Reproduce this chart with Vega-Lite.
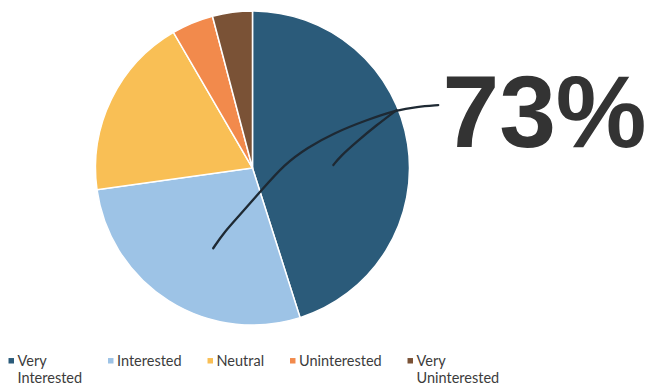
{
  "$schema": "https://vega.github.io/schema/vega-lite/v6.json",
  "width": 651,
  "height": 385,
  "padding": 0,
  "autosize": {"type": "none"},
  "background": "white",
  "config": {"view": {"stroke": null}},
  "datasets": {
    "slices": [
      {"category": "Very Interested", "percent": 45.1, "rank": 1},
      {"category": "Interested", "percent": 27.7, "rank": 2},
      {"category": "Neutral", "percent": 18.8, "rank": 3},
      {"category": "Uninterested", "percent": 4.3, "rank": 4},
      {"category": "Very Uninterested", "percent": 4.1, "rank": 5}
    ],
    "pointer": [
      {"branch": "long", "step": 1, "u": 1.183, "v": 0.401},
      {"branch": "long", "step": 2, "u": 1.046, "v": 0.390},
      {"branch": "long", "step": 3, "u": 0.918, "v": 0.369},
      {"branch": "long", "step": 4, "u": 0.727, "v": 0.306},
      {"branch": "long", "step": 5, "u": 0.515, "v": 0.221},
      {"branch": "long", "step": 6, "u": 0.350, "v": 0.130},
      {"branch": "long", "step": 7, "u": 0.205, "v": 0.025},
      {"branch": "long", "step": 8, "u": 0.059, "v": -0.140},
      {"branch": "long", "step": 9, "u": -0.080, "v": -0.299},
      {"branch": "long", "step": 10, "u": -0.186, "v": -0.416},
      {"branch": "long", "step": 11, "u": -0.250, "v": -0.511},
      {"branch": "short", "step": 1, "u": 0.918, "v": 0.369},
      {"branch": "short", "step": 2, "u": 0.791, "v": 0.274},
      {"branch": "short", "step": 3, "u": 0.664, "v": 0.168},
      {"branch": "short", "step": 4, "u": 0.557, "v": 0.072},
      {"branch": "short", "step": 5, "u": 0.515, "v": 0.019}
    ]
  },
  "resolve": {"scale": {"x": "shared", "y": "shared"}},
  "layer": [
    {
      "data": {"name": "slices"},
      "mark": {"type": "arc", "outerRadius": 157, "stroke": "white", "strokeWidth": 1.5},
      "encoding": {
        "x": {"datum": 0, "type": "quantitative", "scale": {"domain": [-1.608, 2.538], "nice": false, "zero": false}, "axis": null},
        "y": {"datum": 0, "type": "quantitative", "scale": {"domain": [-1.382, 1.070], "nice": false, "zero": false}, "axis": null},
        "theta": {"field": "percent", "type": "quantitative", "stack": true},
        "order": {"field": "rank", "type": "quantitative"},
        "color": {
          "field": "category",
          "type": "nominal",
          "sort": ["Very Interested", "Interested", "Neutral", "Uninterested", "Very Uninterested"],
          "scale": {
            "domain": ["Very Interested", "Interested", "Neutral", "Uninterested", "Very Uninterested"],
            "range": ["#2b5b7a", "#9dc3e6", "#f9bf55", "#f28a4c", "#7a5236"]
          },
          "legend": {
            "title": null,
            "orient": "none",
            "legendX": 4,
            "legendY": 359,
            "direction": "horizontal",
            "columns": 5,
            "gridAlign": "none",
            "columnPadding": 20.5,
            "padding": 0,
            "symbolType": "M-1,-3H1V-1H-1Z",
            "symbolSize": 30,
            "symbolStrokeWidth": 0,
            "labelOffset": -1,
            "labelFont": "Lato",
            "labelFontSize": 14.5,
            "labelColor": "#3c3c3c",
            "labelBaseline": "alphabetic",
            "labelLimit": 200,
            "labelExpr": "datum.label == 'Very Interested' ? ['Very', 'Interested'] : datum.label == 'Very Uninterested' ? ['Very', 'Uninterested'] : datum.label",
            "encode": {"labels": {"update": {"lineHeight": {"value": 17}}}}
          }
        }
      }
    },
    {
      "data": {"name": "pointer"},
      "mark": {"type": "line", "interpolate": "basis", "color": "#1e2933", "strokeWidth": 2.3, "strokeCap": "round"},
      "encoding": {
        "x": {"field": "u", "type": "quantitative"},
        "y": {"field": "v", "type": "quantitative"},
        "detail": {"field": "branch"},
        "order": {"field": "step", "type": "quantitative"}
      }
    },
    {
      "data": {"values": [{"label": "73%"}]},
      "mark": {"type": "text", "font": "Liberation Sans", "fontWeight": "bold", "fontSize": 102, "color": "#333333", "align": "left", "baseline": "alphabetic"},
      "encoding": {
        "x": {"datum": 1.2096, "type": "quantitative"},
        "y": {"datum": 0.1357, "type": "quantitative"},
        "text": {"field": "label"}
      }
    }
  ]
}
